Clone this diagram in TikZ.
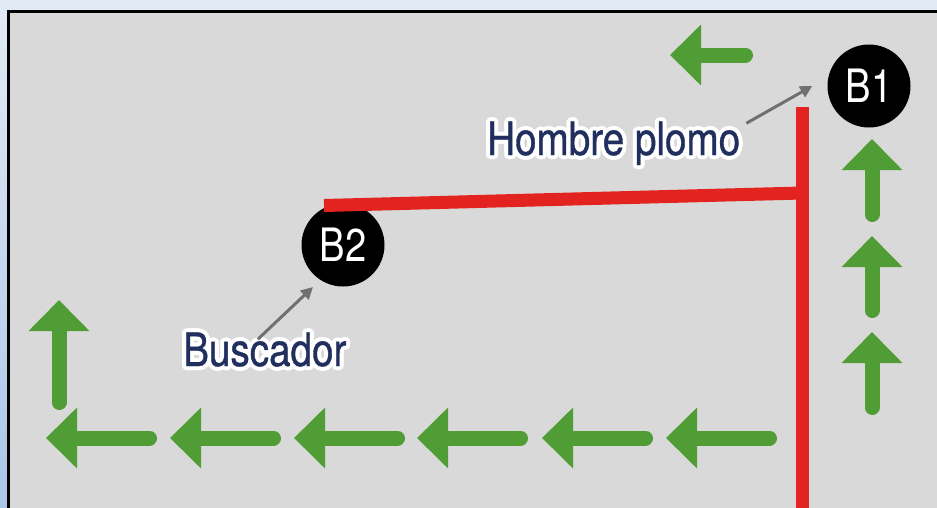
\documentclass[tikz,border=0pt]{standalone}
\usepackage{fontspec}
\setmainfont{TeX Gyre Heros}[FakeStretch=0.83]
\newfontfamily\labelfont{TeX Gyre Heros}[FakeStretch=0.84,FakeBold=0.8]
\usetikzlibrary{arrows.meta,calc}
\definecolor{panelgray}{RGB}{217,217,217}
\definecolor{leadgreen}{RGB}{80,157,54}
\definecolor{ropered}{RGB}{227,35,31}
\definecolor{labelnavy}{RGB}{33,47,95}
\definecolor{pointergray}{RGB}{112,112,112}
\tikzset{
    %Define style for the diver discs
    diver/.style={
      circle,
      fill=black,
      text=white,
      minimum size=83pt,
      inner sep=0pt,
      font=\fontsize{46}{46}\selectfont},
    %Define style for labels
    lbl/.style={
      inner sep=0pt,
      text=labelnavy,
      font=\labelfont\fontsize{46}{46}\selectfont},
    halo/.style={lbl, text=white},
    % Define arrow styles
    swim/.style={
      draw=leadgreen,
      line width=15pt,
      line cap=round,
      -{Triangle[length=31pt,width=59pt]}},
    rope/.style={
      draw=ropered,
      line width=13pt},
    pointer/.style={
      draw=pointergray,
      line width=3pt,
      -{Triangle[length=12pt,width=12pt]}},
}
\begin{document}
\begin{tikzpicture}[x=1pt, y=-1pt]
    \useasboundingbox (0,0) rectangle (937,507);
    \clip (0,0) rectangle (937,507);
    \shade[top color={rgb,255:red,227;green,234;blue,246}, bottom color={rgb,255:red,169;green,197;blue,232}]
      (0,0) rectangle (937,507);
    \draw[line width=3pt, fill=panelgray] (8.5,11) rectangle (960,530);

    % divers
    \node[diver] (B1) at (869,86) {B1};
    \node[diver] (B2) at (343,245) {B2};

    % rope
    \coordinate (ropetop) at (802,107);
    \coordinate (ropebot) at (802,515);
    \coordinate (tie) at (802,193);
    \coordinate (ropeend) at (324,205.5);
    \draw[rope] (ropetop) -- (ropebot);
    \draw[rope] (ropeend) -- (tie);

    % labels with white halo
    \foreach \a in {0,22.5,...,337.5}
      \node[halo, anchor=base west] at ($(487,155)+(\a:4)$) {Hombre plomo};
    \node[lbl, anchor=base west] (lead) at (487,155) {Hombre plomo};
    \foreach \a in {0,22.5,...,337.5}
      \node[halo, anchor=base west] at ($(183,366)+(\a:4)$) {Buscador};
    \node[lbl, anchor=base west] (seeker) at (183,366) {Buscador};

    \draw[pointer] ([shift={(6,2)}]lead.north east) -- ([xshift=-15]B1.west);
    \draw[pointer] ([shift={(-7,7)}]seeker.north) -- ($(B2)+(-30,42)$);

    % swim directions
    \draw[swim] (745.5,55) -- (670,55);
    \draw[swim] (872,214.5) -- (872,139);
    \draw[swim] (872,310.5) -- (872,236);
    \draw[swim] (872,407.5) -- (872,332);
    \draw[swim] (769.5,438) -- (666,438);
    \draw[swim] (645.5,438) -- (542,438);
    \draw[swim] (520.5,438) -- (417,438);
    \draw[swim] (397.5,438) -- (294,438);
    \draw[swim] (273.5,438) -- (170,438);
    \draw[swim] (149.5,438) -- (46,438);
    \draw[swim] (59,402.5) -- (59,300);
\end{tikzpicture}
\end{document}
